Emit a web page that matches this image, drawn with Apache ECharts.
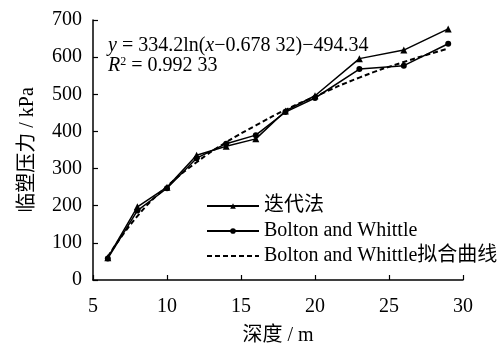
<!DOCTYPE html>
<html><head><meta charset="utf-8">
<script src="https://cdn.jsdelivr.net/npm/echarts@6/dist/echarts.min.js"></script>
<style>html,body{margin:0;padding:0;background:#fff}#c{width:502px;height:345px}</style>
</head><body><div id="c"></div>
<script>
var depths = [6, 8, 10, 12, 14, 16, 18, 20, 23, 26, 29];
var iterValues = [60, 197, 250, 336, 360, 380, 455, 496, 596, 619, 676];
var bwValues = [58, 187, 247, 328, 367, 390, 452, 490, 568, 577, 636];
var fitValues = [63, 172, 252, 317, 371, 416, 458, 494, 545, 587, 623];
var xTicks = [5, 10, 15, 20, 25, 30];
var yTicks = [0, 100, 200, 300, 400, 500, 600, 700];
var seriesNames = ['迭代法', 'Bolton and Whittle', 'Bolton and Whittle拟合曲线'];

function pairs(v){ return depths.map(function(d,i){ return [d, v[i]]; }); }
var FONT = '"Liberation Serif", "Noto Sans CJK SC", serif';
var chart = echarts.init(document.getElementById('c'));
chart.setOption({
  animation: false,
  backgroundColor: '#fff',
  textStyle: { fontFamily: FONT, color: '#000' },
  grid: { left: 93, right: 39, top: 20, bottom: 65, containLabel: false, outerBoundsMode: 'none' },
  xAxis: {
    type: 'value', min: xTicks[0], max: xTicks[xTicks.length-1], interval: 5,
    name: '深度 / m', nameLocation: 'middle', nameGap: 46,
    nameTextStyle: { fontFamily: FONT, fontSize: 20, color: '#000' },
    axisLine: { lineStyle: { color: '#000', width: 1.5 } },
    axisTick: { inside: true, length: 5, lineStyle: { color: '#000', width: 1.2 } },
    axisLabel: { fontFamily: FONT, fontSize: 20, color: '#000', margin: 17 },
    splitLine: { show: false }
  },
  yAxis: {
    type: 'value', min: yTicks[0], max: yTicks[yTicks.length-1], interval: 100,
    name: '临塑压力 / kPa', nameLocation: 'middle', nameGap: 55,
    nameTextStyle: { fontFamily: FONT, fontSize: 20, color: '#000' },
    axisLine: { show: true, lineStyle: { color: '#000', width: 1.5 } },
    axisTick: { show: true, inside: true, length: 5, lineStyle: { color: '#000', width: 1.2 } },
    axisLabel: { fontFamily: FONT, fontSize: 20, color: '#000', margin: 11 },
    splitLine: { show: false }
  },
  legend: {
    orient: 'vertical', left: 201, top: 191, itemWidth: 52, itemHeight: 7, itemGap: 5,
    textStyle: { fontFamily: FONT, fontSize: 20, color: '#000' },
    data: [
      { name: seriesNames[0] },
      { name: seriesNames[1] },
      { name: seriesNames[2], itemStyle: { opacity: 0 } }
    ]
  },
  graphic: [{
    type: 'text', left: 108, top: 36,
    style: {
      text: '{i|y} = 334.2ln({i|x}−0.678 32)−494.34\n{i|R}{s|2} = 0.992 33',
      font: '20px ' + FONT, fill: '#000', lineHeight: 20,
      rich: {
        i: { fontStyle: 'italic', fontFamily: FONT, fontSize: 20, lineHeight: 20 },
        s: { fontSize: 12, verticalAlign: 'top', fontFamily: FONT, lineHeight: 20, padding: [0,0,8,0] }
      }
    }
  }],
  series: [
    { name: seriesNames[0], type: 'line', data: pairs(iterValues), symbol: 'triangle', symbolSize: 7,
      lineStyle: { color: '#000', width: 1.5 }, itemStyle: { color: '#000' }, z: 3 },
    { name: seriesNames[1], type: 'line', data: pairs(bwValues), symbol: 'circle', symbolSize: 6,
      lineStyle: { color: '#000', width: 1.5 }, itemStyle: { color: '#000' }, z: 3 },
    { name: seriesNames[2], type: 'line', data: pairs(fitValues), symbol: 'none', smooth: true,
      lineStyle: { color: '#000', width: 2, type: [5, 3] }, itemStyle: { color: '#000' }, z: 2 }
  ]
});
</script></body></html>
